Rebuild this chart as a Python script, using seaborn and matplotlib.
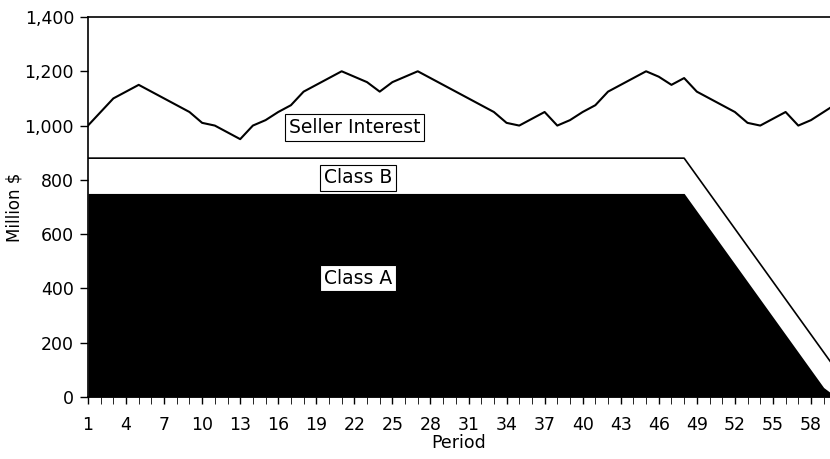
# Seller interest vs. Class A / Class B balances by period

import numpy as np
import pandas as pd
import seaborn as sns
import matplotlib.pyplot as plt

#----------------------------------------------------------------------------#

periods = list(range(1, 61))

seller_interest = [1000, 1050, 1100, 1125, 1150, 1125, 1100, 1075, 1050, 1010,
                   1000, 975, 950, 1000, 1020, 1050, 1075, 1125, 1150, 1175,
                   1200, 1180, 1160, 1125, 1160, 1180, 1200, 1175, 1150, 1125,
                   1100, 1075, 1050, 1010, 1000, 1025, 1050, 1000, 1020, 1050,
                   1075, 1125, 1150, 1175, 1200, 1180, 1150, 1175, 1125, 1100,
                   1075, 1050, 1010, 1000, 1025, 1050, 1000, 1020, 1050, 1080]

class_a = [750] * 48 + [685, 620, 555, 490, 425, 360, 295, 230, 165, 100, 35, 0]
class_b = [880] * 48 + [815, 750, 685, 620, 555, 490, 425, 360, 295, 230, 165, 100]

df = pd.DataFrame({"Period": periods, "Seller Interest": seller_interest,
                   "Class A": class_a, "Class B": class_b})

#----------------------------------------------------------------------------#

sns.set_style("ticks")
plt.rcParams['font.family'] = ['DejaVu Sans']
plt.rcParams['text.color'] = 'black'
plt.rcParams['axes.labelcolor'] = 'black'
plt.rcParams['xtick.color'] = 'black'
plt.rcParams['ytick.color'] = 'black'

fig, ax = plt.subplots(figsize=(8.3, 4.59), dpi=100)
fig.subplots_adjust(left=0.106, right=1.0, top=0.963, bottom=0.135)

ax.fill_between(df["Period"], 0, df["Class A"], color="black", lw=0)
sns.lineplot(data=df, x="Period", y="Class B", color="black", lw=1.2, ax=ax)
sns.lineplot(data=df, x="Period", y="Seller Interest", color="black", lw=1.5,
             ax=ax)

box = dict(boxstyle="square,pad=0.2", fc="white", ec="black", lw=0.8)
ax.text(22, 993, "Seller Interest", ha="center", va="center", fontsize=13.5,
        bbox=box)
ax.text(22.3, 807, "Class B", ha="center", va="center", fontsize=13.5,
        bbox=box)
ax.text(22.3, 438, "Class A", ha="center", va="center", fontsize=13.5,
        bbox=box)

ax.set_xlim(1, 59.5)
ax.set_ylim(0, 1400)
ax.set_xticks(range(1, 60, 3))
ax.set_xticks(range(1, 60), minor=True)
ax.set_yticks(range(0, 1401, 200))
ax.yaxis.set_major_formatter(plt.FuncFormatter(lambda v, p: f"{int(v):,}"))
ax.tick_params(axis="both", labelsize=12.5, width=1)
ax.tick_params(axis="x", which="both", length=5)
ax.tick_params(axis="x", pad=9)
ax.tick_params(axis="y", length=6, pad=4)

for s in ["left", "top", "bottom"]:
    ax.spines[s].set_visible(True)
    ax.spines[s].set_color("black")
    ax.spines[s].set_linewidth(1.2)
ax.spines["right"].set_visible(False)

ax.set_xlabel("Period", fontsize=12.5, labelpad=0)
ax.set_ylabel("Million $", fontsize=12, labelpad=1)

plt.savefig("out.png", dpi=100)
